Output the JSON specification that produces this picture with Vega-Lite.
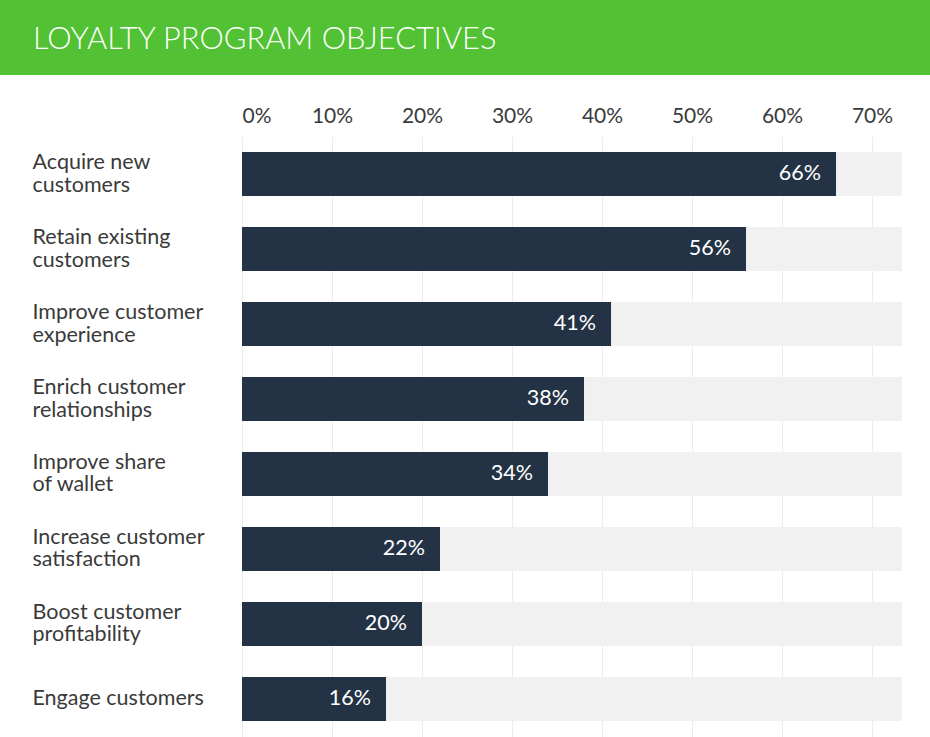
{
  "$schema": "https://vega.github.io/schema/vega-lite/v6.json",
  "padding": 0,
  "background": "white",
  "spacing": 29.5,
  "config": {"view": {"stroke": null}, "font": "Lato"},
  "datasets": {
    "objectives": [
      {"objective": "Acquire new|customers", "share": 0.66},
      {"objective": "Retain existing|customers", "share": 0.56},
      {"objective": "Improve customer|experience", "share": 0.41},
      {"objective": "Enrich customer|relationships", "share": 0.38},
      {"objective": "Improve share|of wallet", "share": 0.34},
      {"objective": "Increase customer|satisfaction", "share": 0.22},
      {"objective": "Boost customer|profitability", "share": 0.20},
      {"objective": "Engage customers", "share": 0.16}
    ]
  },
  "vconcat": [
    {
      "width": 930,
      "height": 75,
      "view": {"fill": "#52c234", "stroke": null},
      "title": {
        "text": "LOYALTY PROGRAM OBJECTIVES",
        "anchor": "start",
        "frame": "group",
        "orient": "bottom",
        "offset": -26,
        "baseline": "alphabetic",
        "dx": 33,
        "fontSize": 30.8,
        "fontWeight": 300,
        "font": "Lato",
        "color": "white"
      },
      "data": {"values": [{}]},
      "mark": {"type": "text"},
      "encoding": {"text": {"value": ""}}
    },
    {
      "width": 930,
      "height": 600,
      "data": {"name": "objectives"},
      "encoding": {
        "y": {
          "field": "objective",
          "type": "nominal",
          "sort": null,
          "scale": {"paddingInner": 0.4133, "paddingOuter": 0.2067},
          "axis": {
            "title": null,
            "orient": "left",
            "domain": false,
            "ticks": false,
            "labelAlign": "left",
            "labelBaseline": "middle",
            "labelPadding": -32,
            "labelOffset": {"condition": {"test": "indexof(datum.label, '|') >= 0", "value": -11}, "value": 0},
            "labelExpr": "split(datum.label, '|')",
            "labelFontSize": 21.5,
            "labelLineHeight": 22.5,
            "labelColor": "#3a3a3a",
            "labelLimit": 0
          }
        }
      },
      "layer": [
        {
          "mark": {"type": "bar", "color": "#f1f1f1"},
          "encoding": {
            "x": {
              "datum": 0.7333,
              "type": "quantitative",
              "scale": {"domain": [0, 0.7333], "range": [242, 902], "nice": false, "zero": true},
              "axis": {
                "orient": "top",
                "title": null,
                "values": [0, 0.1, 0.2, 0.3, 0.4, 0.5, 0.6, 0.7],
                "format": ".0%",
                "grid": true,
                "gridColor": "#ececec",
                "domain": false,
                "ticks": false,
                "labelPadding": 10.5,
                "labelFontSize": 21,
                "labelColor": "#3a3a3a"
              }
            }
          }
        },
        {
          "mark": {"type": "bar", "color": "#233345"},
          "encoding": {"x": {"field": "share", "type": "quantitative"}}
        },
        {
          "mark": {"type": "text", "align": "right", "baseline": "middle", "dx": -15, "color": "white", "fontSize": 21.5},
          "encoding": {
            "x": {"field": "share", "type": "quantitative"},
            "text": {"field": "share", "type": "quantitative", "format": ".0%"}
          }
        }
      ]
    }
  ]
}
